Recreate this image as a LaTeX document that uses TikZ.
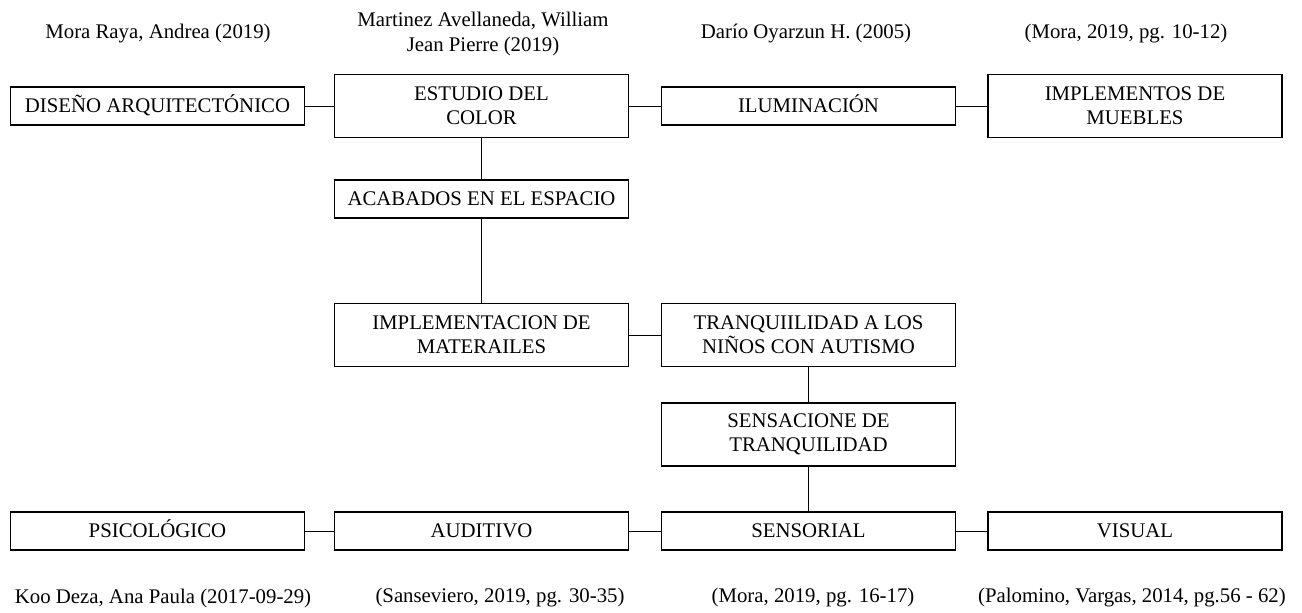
\documentclass[tikz,border=0pt]{standalone}
\usepackage{fontspec}
\setmainfont{Liberation Serif}
\usepackage{tikz}

\begin{document}
\begin{tikzpicture}[x=0.5pt,y=-0.5pt,
    every node/.style={font=\fontsize{10.4}{12.2}\selectfont,align=center,inner sep=0pt},
    frame/.style={draw,line width=0.6pt,minimum width=147pt},
    box/.style={frame,minimum height=19pt,text height=9pt,text depth=2.4pt},
    tallbox/.style={frame,minimum height=31.5pt}]
            \useasboundingbox (0,0) rectangle (1302,612);

            % upper row
            \node[box] (D) at (157.5,106) {DISEÑO ARQUITECTÓNICO};
            \node[tallbox] (E) at (481.5,106) {ESTUDIO DEL\\COLOR};
            \node[box] (I) at (808.5,106) {ILUMINACIÓN};
            \node[tallbox] (M) at (1135,106) {IMPLEMENTOS DE\\MUEBLES};
            \node[box] (A) at (481.5,199) {ACABADOS EN EL ESPACIO};
            \node[tallbox] (P) at (481.5,335) {IMPLEMENTACION DE\\MATERAILES};
            \node[tallbox] (T) at (808.5,335) {TRANQUIILIDAD A LOS\\NIÑOS CON AUTISMO};
            \node[tallbox] (S) at (808.5,434.5) {SENSACIONE DE\\TRANQUILIDAD};

            % lower row
            \foreach \x/\txt [count=\i] in {157.5/PSICOLÓGICO,481.5/AUDITIVO,808.5/SENSORIAL,1135/VISUAL}
                \node[box] (B \i) at (\x,531) {\txt};

            % references
            \node (R1) at (158,34) {Mora Raya, Andrea (2019)};
            \node (R2) at (483,34) {Martinez Avellaneda, William\\Jean Pierre (2019)};
            \node (R3) at (806,34) {Darío Oyarzun H. (2005)};
            \node (R4) at (1126,34) {(Mora, 2019, pg. 10-12)};
            \node (R5) at (163,598) {Koo Deza, Ana Paula (2017-09-29)};
            \node (R6) at (500,598) {(Sanseviero, 2019, pg. 30-35)};
            \node (R7) at (813,598) {(Mora, 2019, pg. 16-17)};
            \node (R8) at (1132,598) {(Palomino, Vargas, 2014, pg.56 - 62)};

            \draw[line width=0.5pt] (D) -- (E) -- (I) -- (M);
            \draw[line width=0.5pt] (E) -- (A) -- (P) -- (T) -- (S) -- (B 3);
            \draw[line width=0.5pt] (B 1) -- (B 2) -- (B 3) -- (B 4);
        \end{tikzpicture}
\end{document}
